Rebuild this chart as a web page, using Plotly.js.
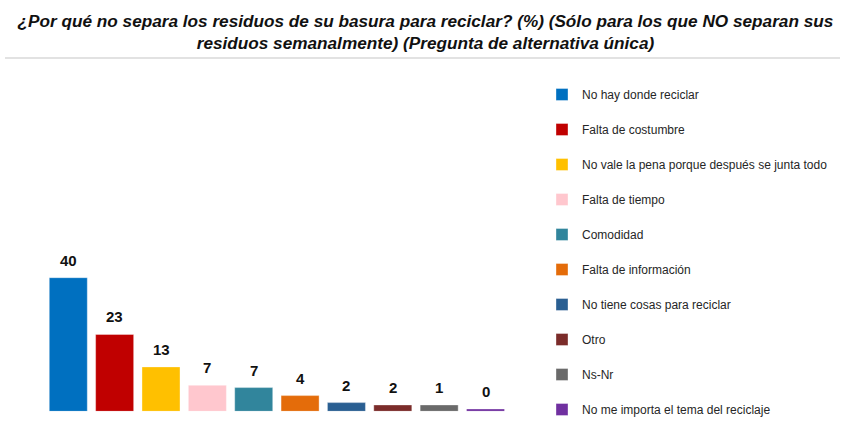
<!DOCTYPE html>
<html>
<head>
<meta charset="utf-8">
<script src="https://cdn.plot.ly/plotly-3.0.1.min.js"></script>
<style>html,body{margin:0;padding:0;background:#fff;}#chart{width:845px;height:425px;}</style>
</head>
<body>
<div id="chart"></div>
<script>
const categories = [
  "No hay donde reciclar",
  "Falta de costumbre",
  "No vale la pena porque después se junta todo",
  "Falta de tiempo",
  "Comodidad",
  "Falta de información",
  "No tiene cosas para reciclar",
  "Otro",
  "Ns-Nr",
  "No me importa el tema del reciclaje"
];
// bar heights (%)
const values = [40, 23, 13.3, 7.8, 7.1, 4.7, 2.6, 1.9, 1.9, 0.7];
// value labels printed above the bars
const labels = ["40", "23", "13", "7", "7", "4", "2", "2", "1", "0"];
const colors = ["#0070C0", "#C00000", "#FFC000", "#FFC7CE", "#31859C",
                "#E46C0A", "#2A5F92", "#7B2C2A", "#6A6A6A", "#7030A0"];

const traces = categories.map((c, i) => ({
  type: "bar",
  name: c,
  x: [c],
  y: [values[i]],
  marker: {color: colors[i], line: {color: "rgba(255,255,255,0.6)", width: 0.6}},
  legendgroup: "g" + i,
  hoverinfo: "skip"
}));

const annotations = categories.map((c, i) => ({
  x: c, y: values[i], xref: "x", yref: "y",
  text: "<b>" + labels[i] + "</b>", showarrow: false,
  yanchor: "bottom", yshift: 7,
  font: {family: "Liberation Sans, Arial, sans-serif", size: 15, color: "#111"}
}));

const layout = {
  width: 845, height: 425,
  margin: {l: 0, r: 0, t: 0, b: 0, autoexpand: false},
  paper_bgcolor: "#fff", plot_bgcolor: "#fff",
  title: {
    text: "<b><i>¿Por qué no separa los residuos de su basura para reciclar? (%) (Sólo para los que NO separan sus<br>residuos semanalmente) (Pregunta de alternativa única)</i></b>",
    font: {family: "Liberation Sans, Arial, sans-serif", size: 17.2, color: "#111"},
    x: 0.5035, xanchor: "center", y: 1 - 27/425, yanchor: "top"
  },
  barmode: "overlay",
  bargap: 0.18,
  xaxis: {
    domain: [45.1/845, 508.7/845],
    showticklabels: false, showgrid: false, zeroline: false, showline: false, ticks: "",
    fixedrange: true
  },
  yaxis: {
    domain: [(425-411.3)/425, (425-261)/425],
    range: [0, 45],
    showticklabels: false, showgrid: false, zeroline: false, showline: false, ticks: "",
    fixedrange: true
  },
  showlegend: true,
  legend: {
    x: 542/845, xanchor: "left", y: (425-80)/425, yanchor: "top",
    font: {family: "Liberation Sans, Arial, sans-serif", size: 12, color: "#262626"},
    tracegroupgap: 16, itemwidth: 30,
    bgcolor: "rgba(0,0,0,0)"
  },
  annotations: annotations,
  shapes: [{
    type: "line", xref: "paper", yref: "paper",
    x0: 5/845, x1: 840/845, y0: (425-58)/425, y1: (425-58)/425,
    line: {color: "#d9d9d9", width: 1.5}
  }]
};

Plotly.newPlot("chart", traces, layout, {displayModeBar: false, staticPlot: true});
</script>
</body>
</html>
